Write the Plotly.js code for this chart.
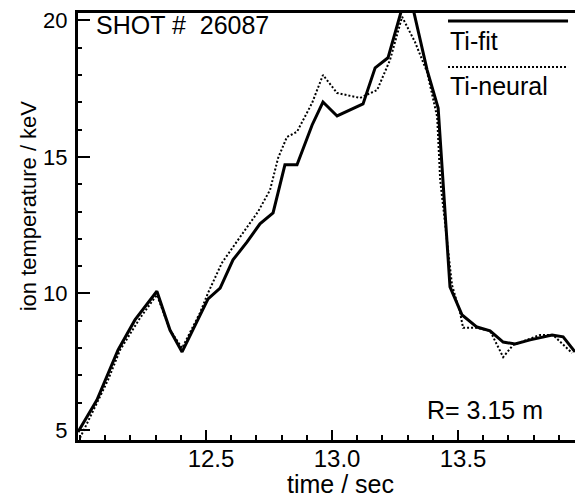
<!DOCTYPE html>
<html>
<head>
<meta charset="utf-8">
<script src="https://cdn.plot.ly/plotly-3.0.1.min.js"></script>
<style>html,body{margin:0;padding:0;background:#fff;}#chart{width:575px;height:498px;}</style>
</head>
<body>
<div id="chart"></div>
<script>
// Ti-fit (solid)
const fitTime = [11.992,12.067,12.151,12.218,12.305,12.357,12.405,12.508,12.556,12.607,12.663,12.714,12.766,12.813,12.861,12.921,12.964,13.020,13.123,13.171,13.222,13.278,13.321,13.377,13.421,13.444,13.468,13.516,13.575,13.627,13.679,13.726,13.786,13.873,13.917,13.964];
const fitTemp = [4.93,6.10,7.93,9.03,10.08,8.66,7.86,9.80,10.20,11.23,11.89,12.55,12.95,14.71,14.71,16.17,17.01,16.50,16.94,18.26,18.63,20.45,20.45,18.19,16.79,13.42,10.24,9.21,8.77,8.63,8.22,8.15,8.30,8.48,8.41,7.86];
// Ti-neural (dotted)
const neuralTime = [12.000,12.111,12.159,12.238,12.305,12.357,12.405,12.476,12.508,12.563,12.607,12.667,12.706,12.754,12.786,12.821,12.861,12.921,12.964,13.020,13.111,13.179,13.230,13.278,13.329,13.377,13.417,13.429,13.476,13.508,13.520,13.575,13.627,13.679,13.718,13.825,13.877,13.952];
const neuralTemp = [4.71,6.83,7.93,9.10,9.95,8.66,8.00,9.29,10.02,11.12,11.70,12.51,12.99,13.79,14.96,15.73,15.92,16.98,18.00,17.34,17.16,17.45,18.55,20.13,19.21,18.11,16.47,14.16,10.31,9.29,8.74,8.74,8.63,7.67,8.11,8.48,8.48,7.82];

const xTickVals = [12.5, 13.0, 13.5];
const xTickText = ['12.5', '13.0', '13.5'];
const yTickVals = [5, 10, 15, 20];
const yTickText = ['5', '10', '15', '20'];

const FONT = 'Liberation Sans, Arial, Helvetica, sans-serif';

const traces = [
  {x: fitTime, y: fitTemp, mode: 'lines', name: 'Ti-fit',
   line: {color: '#000', width: 3}},
  {x: neuralTime, y: neuralTemp, mode: 'lines', name: 'Ti-neural',
   line: {color: '#000', width: 2, dash: '2px,2px'}}
];

const layout = {
  width: 575, height: 498,
  margin: {l: 78, r: 0, t: 13, b: 58, pad: 0},
  paper_bgcolor: '#fff', plot_bgcolor: '#fff',
  showlegend: false,
  font: {family: FONT, color: '#000'},
  xaxis: {
    range: [11.992, 13.964],
    tickvals: xTickVals, ticktext: xTickText,
    ticks: 'inside', ticklen: 10, tickwidth: 2, tickcolor: '#000',
    minor: {dtick: 0.1, tick0: 12, ticks: 'inside', ticklen: 5, tickwidth: 2, tickcolor: '#000'},
    showline: true, linewidth: 3, linecolor: '#000', mirror: true,
    showgrid: false, zeroline: false,
    tickfont: {family: FONT, size: 24, color: '#000'},
    ticklabelshift: 5, ticklabelstandoff: -5
  },
  yaxis: {
    range: [4.634, 20.27],
    tickvals: yTickVals, ticktext: yTickText,
    ticks: 'inside', ticklen: 12, tickwidth: 2, tickcolor: '#000',
    minor: {dtick: 1, tick0: 5, ticks: 'inside', ticklen: 4, tickwidth: 2, tickcolor: '#000'},
    showline: true, linewidth: 3, linecolor: '#000',
    showgrid: false, zeroline: false,
    tickfont: {family: FONT, size: 22, color: '#000'},
    ticklabelstandoff: 3
  },
  shapes: [
    {type: 'line', xref: 'paper', yref: 'paper', x0: 0.7445, x1: 0.986, y0: 0.981, y1: 0.981,
     line: {color: '#000', width: 3}},
    {type: 'line', xref: 'paper', yref: 'paper', x0: 0.7445, x1: 0.986, y0: 0.8735, y1: 0.8735,
     line: {color: '#000', width: 2, dash: '2px,2px'}}
  ],
  annotations: [
    {text: 'SHOT #  26087', xref: 'paper', yref: 'paper', x: 0.032, y: 0.972, xanchor: 'left', yanchor: 'middle',
     showarrow: false, font: {family: FONT, size: 25, color: '#000'}},
    {text: 'Ti-fit', xref: 'paper', yref: 'paper', x: 0.7445, y: 0.934, xanchor: 'left', yanchor: 'middle',
     showarrow: false, font: {family: FONT, size: 25, color: '#000'}},
    {text: 'Ti-neural', xref: 'paper', yref: 'paper', x: 0.7445, y: 0.829, xanchor: 'left', yanchor: 'middle',
     showarrow: false, font: {family: FONT, size: 25, color: '#000'}},
    {text: 'R= 3.15 m', xref: 'paper', yref: 'paper', x: 0.698, y: 0.0703, xanchor: 'left', yanchor: 'middle',
     showarrow: false, font: {family: FONT, size: 25, color: '#000'}},
    {text: 'time / sec', xref: 'paper', yref: 'paper', x: 0.529, y: -0.102, xanchor: 'center', yanchor: 'middle',
     showarrow: false, font: {family: FONT, size: 25, color: '#000'}},
    {text: 'ion temperature / keV', xref: 'paper', yref: 'paper', x: -0.1, y: 0.548, xanchor: 'center', yanchor: 'middle',
     textangle: -90, showarrow: false, font: {family: FONT, size: 22, color: '#000'}}
  ]
};

Plotly.newPlot('chart', traces, layout, {displayModeBar: false, staticPlot: true});
</script>
</body>
</html>
